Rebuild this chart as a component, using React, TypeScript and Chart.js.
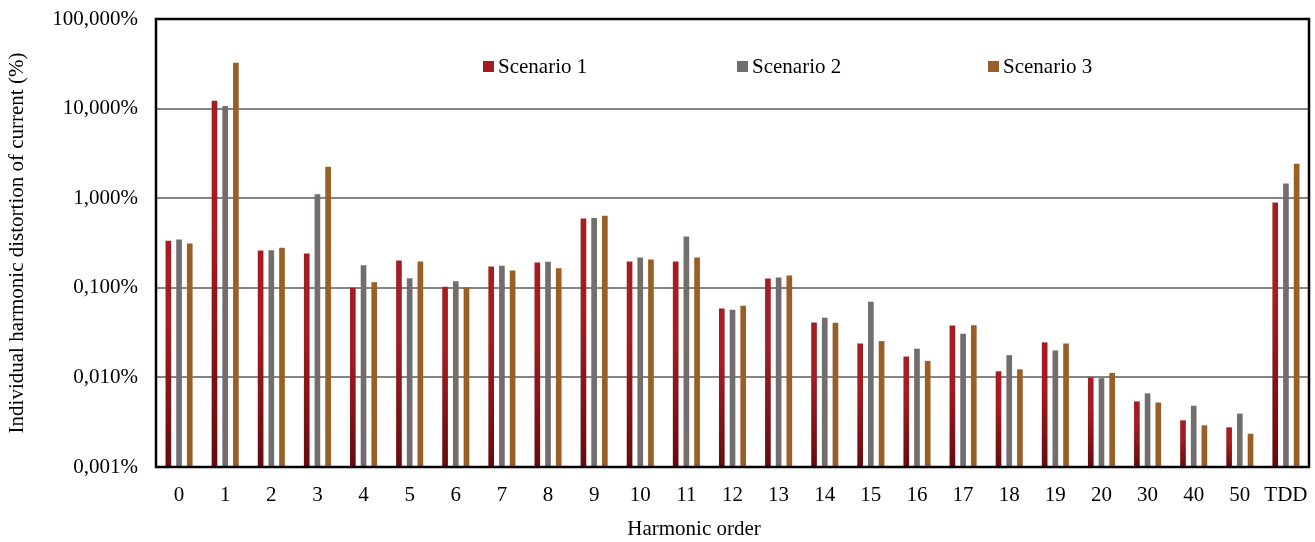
import React, { useEffect, useRef } from "react";
import { Chart, registerables } from "chart.js";

Chart.register(...registerables);

const categories = ["0", "1", "2", "3", "4", "5", "6", "7", "8", "9", "10", "11", "12", "13", "14", "15", "16", "17", "18", "19", "20", "30", "40", "50", "TDD"];
const scenario1 = [0.336, 12.2, 0.261, 0.241, 0.1, 0.202, 0.103, 0.173, 0.191, 0.593, 0.196, 0.196, 0.0588, 0.127, 0.041, 0.0239, 0.0171, 0.038, 0.0117, 0.0246, 0.01, 0.0054, 0.00332, 0.00277, 0.893];
const scenario2 = [0.345, 10.7, 0.262, 1.106, 0.179, 0.128, 0.118, 0.176, 0.195, 0.603, 0.218, 0.373, 0.0568, 0.13, 0.0463, 0.0698, 0.0209, 0.0307, 0.0177, 0.02, 0.0098, 0.00664, 0.00483, 0.00394, 1.455];
const scenario3 = [0.312, 32.5, 0.279, 2.25, 0.115, 0.196, 0.101, 0.156, 0.165, 0.635, 0.207, 0.218, 0.063, 0.137, 0.0407, 0.0254, 0.0153, 0.0383, 0.0123, 0.0239, 0.0112, 0.00525, 0.00292, 0.00235, 2.43];
const seriesNames = ["Scenario 1", "Scenario 2", "Scenario 3"];
const yTicks = [0.001, 0.01, 0.1, 1, 10, 100];
const xTitle = "Harmonic order";

const FONT = "'Liberation Serif', 'Times New Roman', serif";
const FS = 21;

function gradientFor(top: string, bottom: string) {
  return (ctx: any) => {
    const chart = ctx.chart;
    const area = chart.chartArea;
    if (!area || ctx.type !== "data") return top;
    const y = chart.scales.y;
    const v = ctx.raw as number;
    const yTop = y.getPixelForValue(v);
    const yBot = area.bottom;
    if (!isFinite(yTop) || yBot - yTop < 1) return top;
    const g = chart.ctx.createLinearGradient(0, yBot, 0, yTop);
    g.addColorStop(0, bottom);
    g.addColorStop(0.65, top);
    g.addColorStop(1, top);
    return g;
  };
}

const legendColors = ["#A31C22", "#736E6E", "#9A5F26"];

const legendPlugin = {
  id: "customLegend",
  afterDatasetsDraw(chart: any) {
    const ctx = chart.ctx;
    const xs = [483, 737, 988];
    ctx.save();
    ctx.font = `${FS}px ${FONT}`;
    ctx.textBaseline = "middle";
    xs.forEach((x, i) => {
      ctx.fillStyle = legendColors[i];
      ctx.fillRect(x, 61, 11, 11);
      ctx.fillStyle = "#000";
      ctx.fillText(seriesNames[i], x + 15, 67);
    });
    // x-axis title
    ctx.textAlign = "center";
    ctx.fillText(xTitle, 694, 529);
    ctx.restore();
  },
};

const framePlugin = {
  id: "frame",
  afterDatasetsDraw(chart: any) {
    const { left, right, top, bottom } = chart.chartArea;
    const ctx = chart.ctx;
    ctx.save();
    ctx.strokeStyle = "#000";
    ctx.lineWidth = 2.5;
    ctx.strokeRect(left, top, right - left, bottom - top);
    ctx.restore();
  },
};

function zeroPad(s: any) {
  s.paddingTop = 0;
  s.paddingBottom = 0;
  s.paddingLeft = 0;
  s.paddingRight = 0;
}

export default function App() {
  const ref = useRef<HTMLCanvasElement | null>(null);
  useEffect(() => {
    if (!ref.current) return;
    const chart = new Chart(ref.current, {
      type: "bar",
      data: {
        labels: categories,
        datasets: [
          { label: seriesNames[0], data: scenario1, backgroundColor: gradientFor("#A51D23", "#660B0E") as any },
          { label: seriesNames[1], data: scenario2, backgroundColor: "#736E6E" },
          { label: seriesNames[2], data: scenario3, backgroundColor: "#9A5F26" },
        ],
      },
      options: {
        responsive: false,
        animation: false,
        layout: { padding: { left: 0, right: 6, top: 19, bottom: 0 } },
        datasets: { bar: { categoryPercentage: 0.696, barPercentage: 0.53 } } as any,
        plugins: { legend: { display: false }, tooltip: { enabled: false } },
        scales: {
          x: {
            grid: { display: false, drawTicks: false },
            border: { display: false },
            ticks: { color: "#000", font: { family: FONT, size: FS }, padding: 16, maxRotation: 0, autoSkip: false },
            title: { display: false },
            afterFit: (s: any) => { s.height = 75; zeroPad(s); },
          },
          y: {
            type: "logarithmic",
            min: 0.001,
            max: 100,
            grid: { color: "#858585", lineWidth: 2, drawTicks: false },
            border: { display: false },
            afterBuildTicks: (s: any) => { s.ticks = yTicks.map((v) => ({ value: v })); },
            ticks: {
              color: "#000",
              font: { family: FONT, size: FS },
              padding: 18,
              callback: (v: any) => Number(v).toFixed(3).replace(".", ",") + "%",
            },
            title: { display: true, text: "Individual harmonic distortion of current (%)", color: "#000", font: { family: FONT, size: FS, lineHeight: 1.2 }, padding: { top: 5, bottom: 0 } },
            afterFit: (s: any) => { s.width = 156; zeroPad(s); },
          },
        },
      },
      plugins: [legendPlugin, framePlugin],
    });
    return () => chart.destroy();
  }, []);
  return (
    <div style={{ position: "absolute", left: 0, top: 0, width: 1315, height: 542, background: "#fff" }}>
      <canvas ref={ref} width={1315} height={542} style={{ display: "block" }} />
    </div>
  );
}
